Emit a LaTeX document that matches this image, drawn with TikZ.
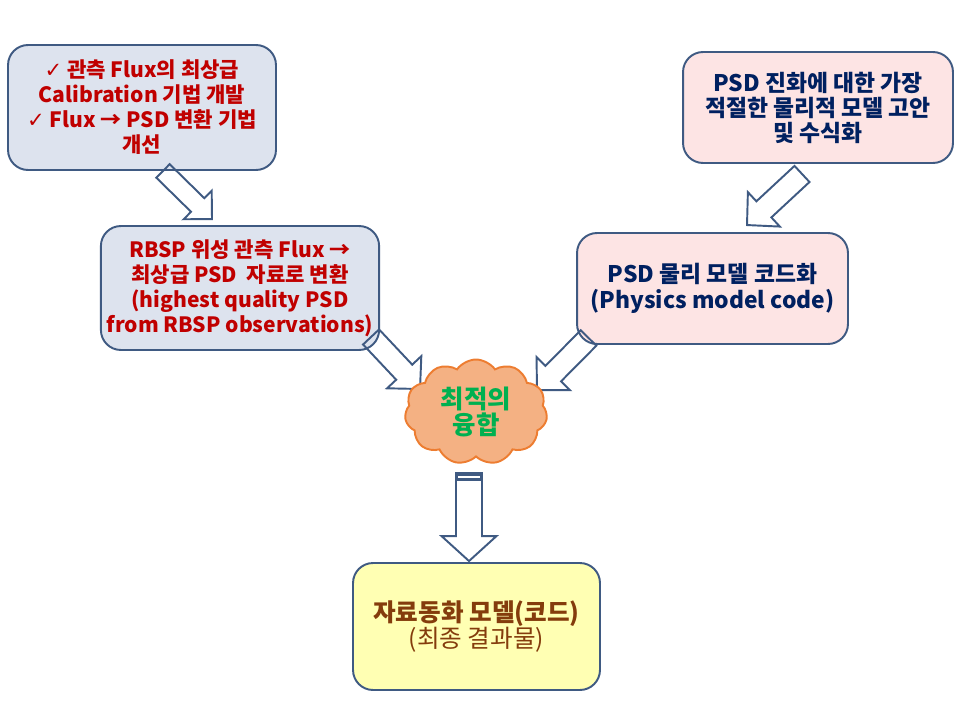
\documentclass[tikz,border=0pt]{standalone}
\usepackage{fontspec}
\setmainfont{Noto Sans CJK KR}
\newfontfamily\checkfont{DejaVu Sans}
\usetikzlibrary{shapes.symbols, calc}

\definecolor{edgeblue}{HTML}{3F5A82}
\definecolor{obsfill}{HTML}{DDE3EE}
\definecolor{obsred}{HTML}{C00000}
\definecolor{modfill}{HTML}{FDE4E4}
\definecolor{modnavy}{HTML}{002060}
\definecolor{resfill}{HTML}{FFFFB3}
\definecolor{resbrown}{HTML}{843C0C}
\definecolor{cloudfill}{HTML}{F4B183}
\definecolor{cloudedge}{HTML}{ED7D31}
\definecolor{fusegreen}{HTML}{00B050}

\tikzstyle{obsbox} = [rectangle, rounded corners=0.4cm, draw=edgeblue, line width=1.1pt, fill=obsfill, text=obsred, align=center, font=\fontsize{12}{14.2}\selectfont\bfseries]
\tikzstyle{modelbox} = [rectangle, rounded corners=0.4cm, draw=edgeblue, line width=1.1pt, fill=modfill, text=modnavy, align=center, font=\fontsize{13}{14.2}\selectfont\bfseries]
\tikzstyle{resultbox} = [rectangle, rounded corners=0.4cm, draw=edgeblue, line width=1.1pt, fill=resfill, text=resbrown, align=center, font=\fontsize{14}{14.5}\selectfont]
\tikzstyle{fusion} = [cloud, cloud puffs=11, cloud puff arc=110, aspect=1.35, draw=cloudedge, fill=cloudfill, line width=1.1pt, text=fusegreen, align=center, inner sep=0pt, minimum width=2.85cm, minimum height=2.1cm, font=\fontsize{14.5}{15}\selectfont\bfseries]
\tikzstyle{fat} = [draw=edgeblue, line width=1.1pt, line join=miter]

% hollow block arrow: tail, tip, shaft half width, head half width, head length
\newcommand{\blockarrow}[5]{%
  \draw[fat] let \p1=($(#2)-(#1)$), \n1={atan2(\y1,\x1)}, \n2={veclen(\x1,\y1)} in
    ($(#1)+(\n1+90:#3)$) -- ($(#1)+(\n1:{\n2*1pt-#5})+(\n1+90:#3)$)
    -- ($(#1)+(\n1:{\n2*1pt-#5})+(\n1+90:#4)$) -- (#2)
    -- ($(#1)+(\n1:{\n2*1pt-#5})+(\n1-90:#4)$) -- ($(#1)+(\n1:{\n2*1pt-#5})+(\n1-90:#3)$)
    -- ($(#1)+(\n1-90:#3)$) -- cycle;
}

\begin{document}
\begin{tikzpicture}[x=0.02cm, y=-0.02cm]
\useasboundingbox (0,0) rectangle (960,720);

\node (flux) [obsbox, minimum width=5.36cm, minimum height=2.5cm] at (142,107.5) {{\checkfont ✓} 관측 Flux의 최상급\\Calibration 기법 개발\\{\checkfont ✓} Flux → PSD 변환 기법\\개선};
\node (theory) [modelbox, minimum width=5.4cm, minimum height=2.22cm] at (818,107.5) {PSD 진화에 대한 가장\\적절한 물리적 모델 고안\\및 수식화};
\node (rbsp) [obsbox, minimum width=5.4cm, minimum height=2.48cm] at (240,288) {RBSP 위성 관측 Flux →\\최상급 PSD\ \ 자료로 변환\\(highest quality PSD\\from RBSP observations)};
\node (code) [modelbox, minimum width=5.42cm, minimum height=2.22cm, font=\fontsize{13}{15}\selectfont\bfseries] at (712.5,288.5) {PSD 물리 모델 코드화\\(Physics model code)};
\node (result) [resultbox, minimum width=4.94cm, minimum height=2.54cm] at (476.5,626.5) {{\bfseries 자료동화 모델(코드)}\\(최종 결과물)};

\coordinate (mix) at (476,412);

\coordinate (a_tail) at ($(flux.south)+(21,0)$);
\coordinate (a_tip) at ($(rbsp.north)+(-28,-6)$);
\coordinate (b_tail) at ($(theory.south)+(-16,10)$);
\coordinate (b_tip) at ($(code.north)+(34.5,-7)$);
\coordinate (c_tail) at ($(rbsp.south east)+(-9,-14)$);
\coordinate (c_tip) at ($(mix)+(-56,-23)$);
\coordinate (d_tail) at ($(code.south west)+(12.5,-7)$);
\coordinate (d_tip) at ($(mix)+(61,-22)$);
\coordinate (e_tail) at ($(mix)+(-7,61)$);
\coordinate (e_tip) at ($(result.north)+(-7.5,-1)$);

\blockarrow{a_tail}{a_tip}{0.19cm}{0.4cm}{0.4cm}
\blockarrow{b_tail}{b_tip}{0.22cm}{0.47cm}{0.46cm}
\blockarrow{c_tail}{c_tip}{0.22cm}{0.47cm}{0.46cm}
\blockarrow{d_tail}{d_tip}{0.22cm}{0.47cm}{0.46cm}
\blockarrow{e_tail}{e_tip}{0.26cm}{0.55cm}{0.5cm}
\fill[edgeblue] ($(e_tail)+(-13,0)$) rectangle ($(e_tail)+(13,8)$);
\draw[white, line width=0.6pt] ($(e_tail)+(-11,4)$) -- ($(e_tail)+(11,4)$);

\node (merge) [fusion] at (mix) {최적의\\융합};

\end{tikzpicture}
\end{document}
